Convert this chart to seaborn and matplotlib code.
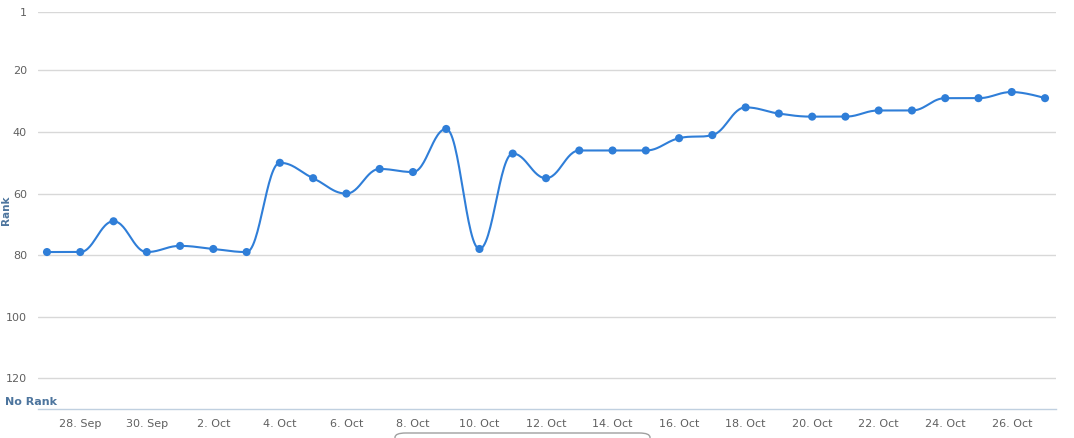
import numpy as np
import pandas as pd
import matplotlib
matplotlib.use("Agg")
import matplotlib.pyplot as plt
import matplotlib.dates as mdates
from matplotlib.patches import FancyBboxPatch
import seaborn as sns

# rank per day, 27 Sep .. 27 Oct
dates = pd.date_range("2023-09-27", "2023-10-27", freq="D")
ranks = [79, 79, 69, 79, 77, 78, 79, 50, 55, 60, 52, 53, 39, 78, 47, 55,
         46, 46, 46, 42, 41, 32, 34, 35, 35, 33, 33, 29, 29, 27, 29]
y_ticks = [1, 20, 40, 60, 80, 100, 120]
x_tick_days = pd.date_range("2023-09-28", "2023-10-26", freq="2D")

blue = "#2f7ed8"
grey_txt = "#606060"
title_col = "#4d759e"


def spline(xs, ys, n=30, smoothing=1.5):
    # highcharts style spline: bezier with control points around each point
    denom = smoothing + 1
    m = len(xs)
    lc = [None] * m
    rc = [None] * m
    for i in range(1, m - 1):
        px, py = xs[i], ys[i]
        lx, ly = xs[i - 1], ys[i - 1]
        nx, ny = xs[i + 1], ys[i + 1]
        lcx = (smoothing * px + lx) / denom
        lcy = (smoothing * py + ly) / denom
        rcx = (smoothing * px + nx) / denom
        rcy = (smoothing * py + ny) / denom
        if rcx != lcx:
            corr = (rcy - lcy) * (rcx - px) / (rcx - lcx) + py - rcy
            lcy += corr
            rcy += corr
        if lcy > ly and lcy > py:
            lcy = max(ly, py)
            rcy = 2 * py - lcy
        elif lcy < ly and lcy < py:
            lcy = min(ly, py)
            rcy = 2 * py - lcy
        if rcy > ny and rcy > py:
            rcy = max(ny, py)
            lcy = 2 * py - rcy
        elif rcy < ny and rcy < py:
            rcy = min(ny, py)
            lcy = 2 * py - rcy
        lc[i] = (lcx, lcy)
        rc[i] = (rcx, rcy)
    lc[m - 1] = (xs[m - 1], ys[m - 1])
    rc[0] = (xs[0], ys[0])
    outx, outy = [], []
    t = np.linspace(0, 1, n)
    for i in range(1, m):
        p0 = (xs[i - 1], ys[i - 1])
        p1 = rc[i - 1]
        p2 = lc[i]
        p3 = (xs[i], ys[i])
        bx = (1 - t) ** 3 * p0[0] + 3 * (1 - t) ** 2 * t * p1[0] + 3 * (1 - t) * t ** 2 * p2[0] + t ** 3 * p3[0]
        by = (1 - t) ** 3 * p0[1] + 3 * (1 - t) ** 2 * t * p1[1] + 3 * (1 - t) * t ** 2 * p2[1] + t ** 3 * p3[1]
        outx.extend(bx)
        outy.extend(by)
    return np.array(outx), np.array(outy)


xnum = mdates.date2num(dates)
sx, sy = spline(list(xnum), list(ranks))

sns.set_style("white")
fig = plt.figure(figsize=(10.74, 4.38), dpi=100)
ax = fig.add_axes([38 / 1074, 1 - 409 / 438, (1056 - 38) / 1074, (409 - 12) / 438])

for v in y_ticks:
    ax.axhline(v, color="#d8d8d8", lw=1, zorder=0)

ax.plot(mdates.num2date(sx), sy, color=blue, lw=1.5, zorder=2)
sns.scatterplot(x=dates, y=ranks, color=blue, s=34, edgecolor="none", ax=ax, zorder=3)

ax.set_ylim(130, 1)
ax.set_xlim(xnum[0] - 0.27, xnum[-1] + 0.33)
ax.set_yticks(y_ticks)
ax.set_yticklabels([str(v) for v in y_ticks])
ax.set_xticks(x_tick_days)
ax.set_xticklabels([f"{d.day}. {d.strftime('%b')}" for d in x_tick_days])

ax.tick_params(axis="y", length=0, labelsize=8, labelcolor=grey_txt, pad=8)
ax.tick_params(axis="x", length=5, direction="out", color="#C0D0E0",
               labelsize=8, labelcolor=grey_txt, pad=2)
for s in ["top", "left", "right"]:
    ax.spines[s].set_visible(False)
ax.spines["bottom"].set_color("#C0D0E0")
ax.spines["bottom"].set_linewidth(1)
ax.set_xlabel("")
ax.set_ylabel("")

fig.text(5 / 1074, 1 - 402 / 438, "No Rank", color=title_col, fontsize=8,
         fontweight="bold", va="center", ha="left")
fig.text(1 / 1074, 1 - 210 / 438, "Rank", color=title_col, fontsize=7.5,
         fontweight="bold", va="center", ha="left", rotation=90)

box = FancyBboxPatch((395 / 1074, -0.02), 255 / 1074, (438 - 433) / 438 + 0.02,
                     boxstyle="round,pad=0,rounding_size=0.01",
                     transform=fig.transFigure, facecolor="white",
                     edgecolor="#a0a0a0", lw=1)
fig.patches.append(box)

fig.savefig("out.png", dpi=100)
